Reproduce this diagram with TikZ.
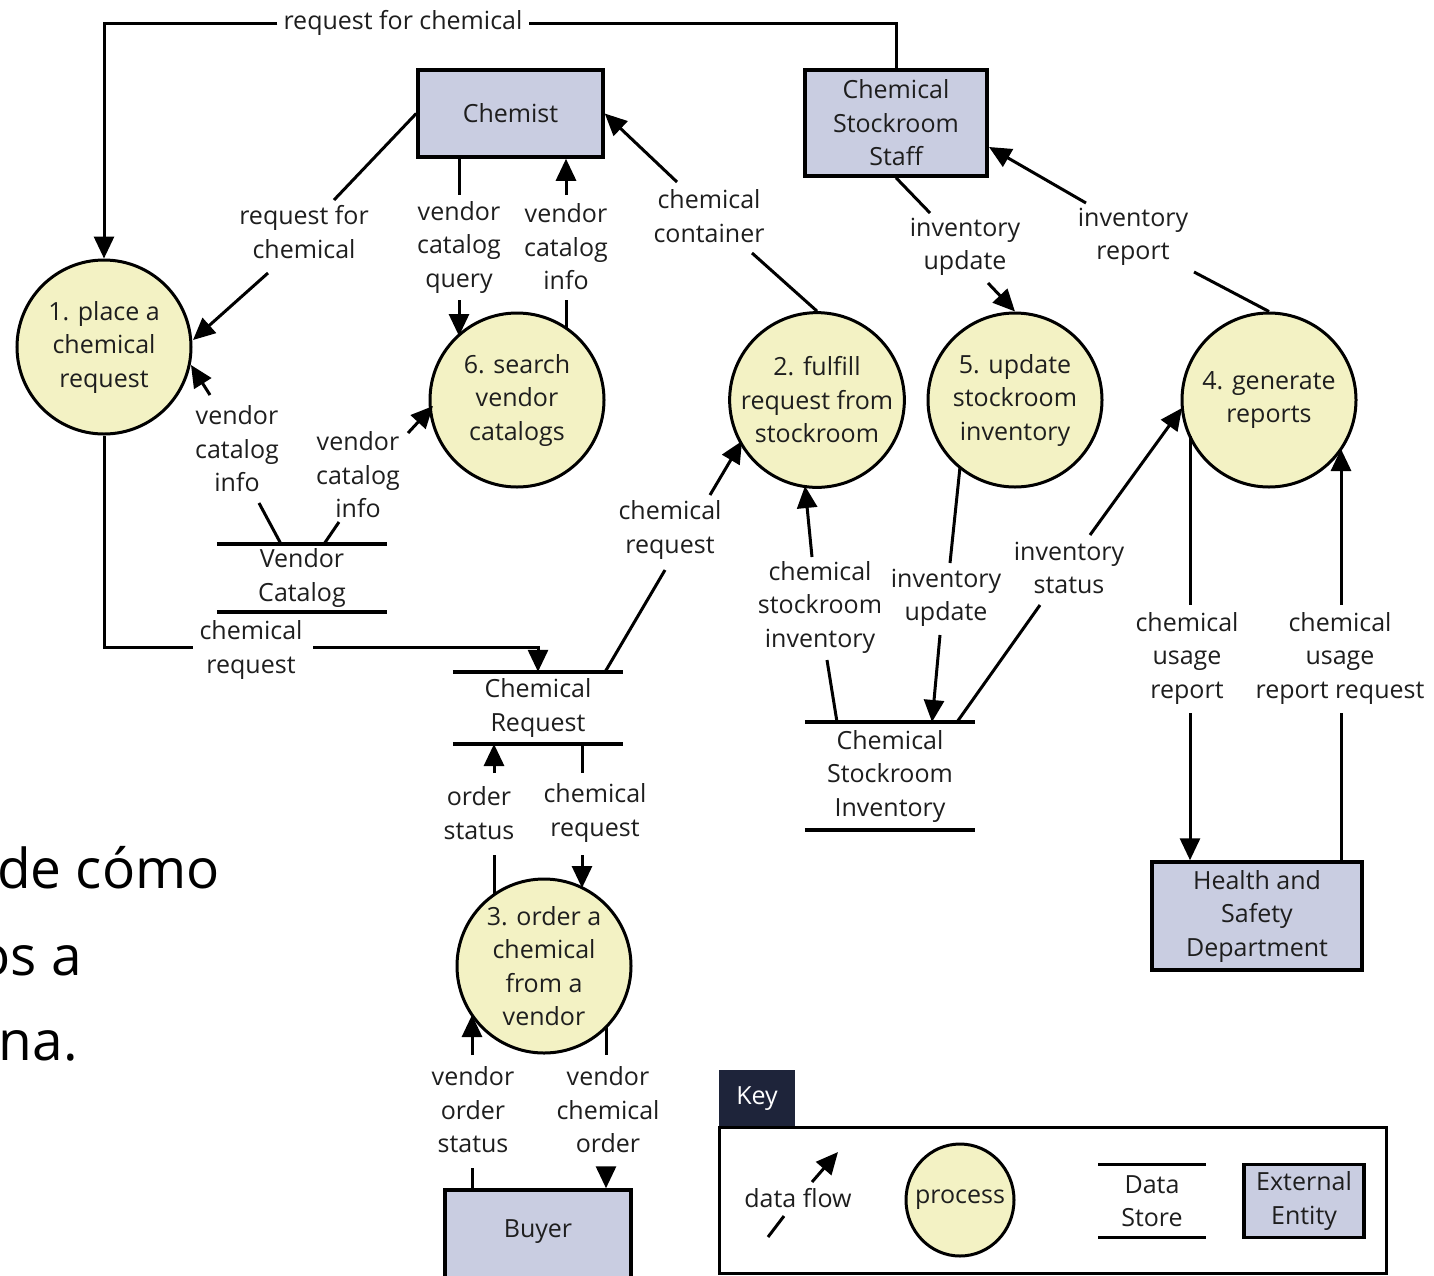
\documentclass[tikz,border=0pt]{standalone}
\usepackage{fontspec}
\setmainfont{Open Sans}
\usetikzlibrary{arrows.meta,shapes.geometric}
\definecolor{procfill}{RGB}{243,242,196}
\definecolor{entfill}{RGB}{201,205,225}
\definecolor{keytab}{RGB}{30,36,58}
\definecolor{ink}{RGB}{30,30,30}
\begin{document}
\begin{tikzpicture}[x=1pt,y=-1pt,
  every node/.style={font=\fontsize{25}{33.5}\selectfont, text=ink, align=center, inner sep=0pt},
  flow/.style={line width=3pt, draw=black},
  arr/.style={flow, -{Triangle[length=22pt,width=20pt]}},
  proc/.style={circle, draw=black, line width=3pt, fill=procfill, minimum size=174pt},
  entity/.style={rectangle, draw=black, line width=3.5pt, fill=entfill},
  storeline/.style={line width=3.5pt, draw=black},
  store/.style={minimum width=170pt}]

\useasboundingbox (0,0) rectangle (1434,1275);
\fill[white] (0,0) rectangle (1434,1275);

% ---- large caption text on the left
\node[anchor=base east, font=\fontsize{55}{60}\selectfont, text=black] (sp1) at (220,888) {de cómo};
\node[anchor=base east, font=\fontsize{55}{60}\selectfont, text=black] (sp2) at (82,975) {os a};
\node[anchor=base east, font=\fontsize{55}{60}\selectfont, text=black] (sp3) at (78,1060) {na.};

% ---- external entities
\node[entity, minimum width=185pt, minimum height=87pt] (chemist) at (510.5,113.5) {Chemist};
\node[entity, minimum width=182pt, minimum height=106pt] (staff) at (896,123) {Chemical\\Stockroom\\Staff};
\node[entity, minimum width=210pt, minimum height=108pt] (hsd) at (1257,916) {Health and\\Safety\\Department};
\node[entity, minimum width=186pt, minimum height=92pt] (buyer) at (538,1236) {};
\node (buyertxt) at (538,1232) {Buyer};

% ---- processes
\node[proc] (p1) at (104,347) {1. place a\\chemical\\request};
\node[proc] (p6) at (517,400) {6. search\\vendor\\catalogs};
\node[proc] (p2) at (817,400) {2. fulfill\\request from\\stockroom};
\node[proc] (p5) at (1015,400) {5. update\\stockroom\\inventory};
\node[proc] (p4) at (1269,400) {4. generate\\reports};
\node[proc] (p3) at (544,966) {3. order a\\chemical\\from a\\vendor};

% ---- data stores
\node[store, minimum height=68pt] (vc) at (302,578) {Vendor\\Catalog};
\node[store, minimum height=72pt] (cr) at (538,708) {Chemical\\Request};
\node[store, minimum height=108pt] (csi) at (890,776) {Chemical\\Stockroom\\Inventory};
\foreach \s in {vc,cr,csi}{
  \draw[storeline] (\s.north west) -- (\s.north east);
  \draw[storeline] (\s.south west) -- (\s.south east);
}

% ---- flow labels
\node (L1) at (403,23) {request for chemical};
\node (L2) at (304,232) {request for\\chemical};
\node (L3) at (459,247) {vendor\\catalog\\query};
\node (L4) at (566,247) {vendor\\catalog\\info};
\node (L5) at (709,216) {chemical\\container};
\node (L6) at (965,247) {inventory\\update};
\node (L7) at (1133,237) {inventory\\report};
\node (L8) at (237,449) {vendor\\catalog\\info};
\node (L9) at (358,475) {vendor\\catalog\\info};
\node (L10) at (251,650) {chemical\\request};
\node (L11) at (670,530) {chemical\\request};
\node (L12) at (820,607) {chemical\\stockroom\\inventory};
\node (L13) at (946,598) {inventory\\update};
\node (L14) at (1069,568) {inventory\\status};
\node (L15) at (1187,658) {chemical\\usage\\report};
\node (L16) at (1340,658) {chemical\\usage\\report request};
\node (L17) at (595,813) {chemical\\request};
\node (L18) at (479,813) {order\\status};
\node (L19) at (473,1110) {vendor\\order\\status};
\node (L20) at (608,1110) {vendor\\chemical\\order};

% ---- free ends of the flows (gaps around labels)
\coordinate (f2a) at (334,200);  \coordinate (f2b) at (268,273);  \coordinate (f2c) at (193,340);
\coordinate (f3a) at (459,195);  \coordinate (f3b) at (459,300);  \coordinate (f3c) at (459,336);
\coordinate (f4a) at (566,329);  \coordinate (f4b) at (566,300);  \coordinate (f4c) at (566,195);
\coordinate (f5a) at (752,253);  \coordinate (f5b) at (677,182);
\coordinate (f6a) at (930,213);  \coordinate (f6b) at (988,283);
\coordinate (f7a) at (1194,272); \coordinate (f7b) at (1086,203); \coordinate (f7c) at (989,147);
\coordinate (f8a) at (281,544);  \coordinate (f8b) at (259,503);  \coordinate (f8c) at (210,395); \coordinate (f8d) at (191,365);
\coordinate (f9a) at (324,544);  \coordinate (f9b) at (339,522);  \coordinate (f9c) at (408,433); \coordinate (f9d) at (433,406);
\coordinate (f10a) at (193,647); \coordinate (f10b) at (313,647);
\coordinate (f11a) at (605,672); \coordinate (f11b) at (665,570); \coordinate (f11c) at (710,495); \coordinate (f11d) at (742,441);
\coordinate (f12a) at (837,722); \coordinate (f12b) at (827,660); \coordinate (f12c) at (812,557); \coordinate (f12d) at (805,486);
\coordinate (f13a) at (960,467); \coordinate (f13b) at (950,563); \coordinate (f13c) at (940,635); \coordinate (f13d) at (932,722);
\coordinate (f14a) at (957,722); \coordinate (f14b) at (1040,605); \coordinate (f14c) at (1090,535); \coordinate (f14d) at (1182,408);
\coordinate (f15a) at (1190,436); \coordinate (f15b) at (1190,605); \coordinate (f15c) at (1190,713);
\coordinate (f16a) at (1341,713); \coordinate (f16b) at (1341,605); \coordinate (f16c) at (1341,449);
\coordinate (f17a) at (582,744); \coordinate (f17b) at (582,773); \coordinate (f17c) at (582,855); \coordinate (f17d) at (582,888);
\coordinate (f18a) at (494,895); \coordinate (f18b) at (494,855); \coordinate (f18c) at (494,773); \coordinate (f18d) at (494,744);
\coordinate (f19a) at (472,1168); \coordinate (f19b) at (472,1055); \coordinate (f19c) at (472,1015);
\coordinate (f20a) at (606,1027); \coordinate (f20b) at (606,1055); \coordinate (f20c) at (606,1168);

% ---- flows
\draw[flow] (staff.north) |- ([xshift=6pt]L1.east);
\draw[arr] ([xshift=-6pt]L1.west) -| (p1.north);
\draw[flow] (chemist.west) -- (f2a);
\draw[arr] (f2b) -- (f2c);
\draw[flow] (chemist.south -| f3a) -- (f3a);
\draw[arr] (f3b) -- (f3c);
\draw[flow] (f4a) -- (f4b);
\draw[arr] (f4c) -- (chemist.south -| f4c);
\draw[flow] (p2.north) -- (f5a);
\draw[arr] (f5b) -- (chemist.east);
\draw[flow] (staff.south) -- (f6a);
\draw[arr] (f6b) -- (p5.north);
\draw[flow] (p4.north) -- (f7a);
\draw[arr] (f7b) -- (f7c);
\draw[flow] (f8a) -- (f8b);
\draw[arr] (f8c) -- (f8d);
\draw[flow] (f9a) -- (f9b);
\draw[arr] (f9c) -- (f9d);
\draw[flow] (p1.south) |- (f10a);
\draw[arr] (f10b) -| (cr.north);
\draw[flow] (f11a) -- (f11b);
\draw[arr] (f11c) -- (f11d);
\draw[flow] (f12a) -- (f12b);
\draw[arr] (f12c) -- (f12d);
\draw[flow] (f13a) -- (f13b);
\draw[arr] (f13c) -- (f13d);
\draw[flow] (f14a) -- (f14b);
\draw[arr] (f14c) -- (f14d);
\draw[flow] (f15a) -- (f15b);
\draw[arr] (f15c) -- (hsd.north -| f15c);
\draw[flow] (hsd.north -| f16a) -- (f16a);
\draw[arr] (f16b) -- (f16c);
\draw[flow] (f17a) -- (f17b);
\draw[arr] (f17c) -- (f17d);
\draw[flow] (f18a) -- (f18b);
\draw[arr] (f18c) -- (f18d);
\draw[flow] (buyer.north -| f19a) -- (f19a);
\draw[arr] (f19b) -- (f19c);
\draw[flow] (f20a) -- (f20b);
\draw[arr] (f20c) -- (buyer.north -| f20c);

% ---- key
\node[fill=keytab, minimum width=76pt, minimum height=57pt, anchor=north west] (keytab) at (719,1070) {};
\node[text=white] (keytxt) at (757,1099) {Key};
\draw[line width=3pt] (719,1127) rectangle (1386,1273);
\node (kflow) at (798,1198) {data flow};
\coordinate (k1) at (768,1237); \coordinate (k2) at (784,1216);
\coordinate (k3) at (812,1182); \coordinate (k4) at (838,1152);
\draw[flow] (k1) -- (k2);
\draw[arr] (k3) -- (k4);
\node[ellipse, draw=black, line width=3pt, fill=procfill, minimum width=108pt, minimum height=112pt] (kproc) at (960,1200) {};
\node (kproctxt) at (kproc) {process};
\node[minimum width=107pt, minimum height=73pt] (kstore) at (1152,1201) {Data\\Store};
\draw[storeline] (kstore.north west) -- (kstore.north east);
\draw[storeline] (kstore.south west) -- (kstore.south east);
\node[entity, minimum width=120pt, minimum height=73pt] (kent) at (1304,1201) {External\\Entity};
\end{tikzpicture}
\end{document}
